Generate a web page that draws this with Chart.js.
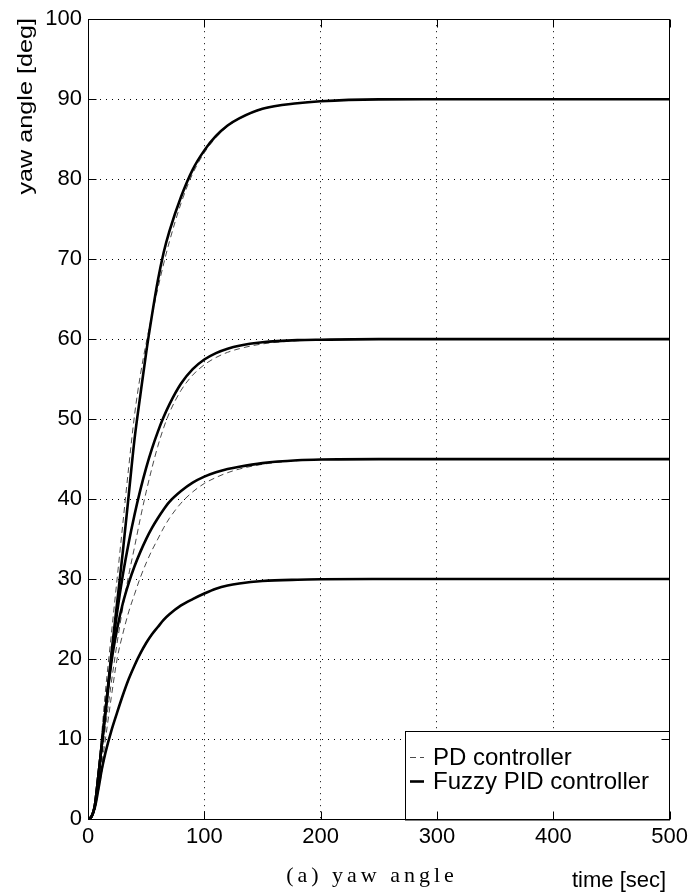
<!DOCTYPE html>
<html>
<head>
<meta charset="utf-8">
<script src="https://cdn.jsdelivr.net/npm/chart.js@4/dist/chart.umd.min.js"></script>
<style>
  html, body { margin: 0; padding: 0; background: #fff; }
  canvas { display: block; }
</style>
</head>
<body>
<canvas id="c" width="693" height="895"></canvas>
<script>
// Sample times [sec] shared by every response curve
const timeSec = [0, 3, 6, 9, 12, 15, 20, 25, 30, 35, 40, 45, 50, 55, 60, 65, 70, 80, 90, 100, 110, 120, 130, 150, 180, 200, 250, 300, 400, 500];

// Yaw angle [deg] with the PD controller, one array per heading command
const pd30 = [0, 0.3, 1.3, 3.5, 6.0, 8.2, 11.0, 13.3, 15.4, 17.4, 19.1, 20.6, 21.9, 23.0, 24.0, 24.9, 25.6, 26.7, 27.5, 28.2, 28.8, 29.2, 29.45, 29.75, 29.92, 29.97, 30, 30, 30, 30];
const pd45 = [0, 0.3, 1.3, 4.0, 7.0, 10.0, 15.2, 20.0, 23.2, 25.9, 28.1, 30.2, 32.0, 33.6, 35.0, 36.4, 37.6, 39.5, 40.9, 41.95, 42.7, 43.3, 43.75, 44.35, 44.8, 44.93, 45, 45, 45, 45];
const pd60 = [0, 0.3, 1.5, 4.5, 8.0, 11.5, 17.0, 22.0, 26.5, 30.5, 34.0, 37.6, 40.9, 43.9, 46.6, 48.9, 50.8, 53.6, 55.5, 56.8, 57.7, 58.35, 58.8, 59.4, 59.8, 59.92, 60, 60, 60, 60];
const pd90 = [0, 0.3, 1.8, 6.0, 11.0, 16.0, 23.0, 30.0, 37.0, 44.0, 50.5, 55.5, 59.5, 63.0, 66.3, 69.4, 72.2, 77.0, 80.7, 83.3, 85.2, 86.6, 87.55, 88.75, 89.5, 89.75, 89.98, 90, 90, 90];

// Yaw angle [deg] with the fuzzy PID controller
const fz30 = [0, 0.3, 1.5, 3.8, 6.3, 8.3, 11.0, 13.3, 15.5, 17.5, 19.2, 20.7, 22.0, 23.1, 24.0, 24.9, 25.6, 26.7, 27.5, 28.2, 28.8, 29.2, 29.45, 29.75, 29.92, 29.97, 30, 30, 30, 30];
const fz45 = [0, 0.3, 1.8, 5.5, 9.5, 13.5, 19.5, 23.75, 27.0, 29.5, 31.6, 33.4, 35.0, 36.4, 37.6, 38.7, 39.65, 41.0, 42.05, 42.8, 43.35, 43.75, 44.05, 44.5, 44.85, 44.95, 45, 45, 45, 45];
const fz60 = [0, 0.3, 1.8, 5.5, 9.5, 13.5, 20.0, 25.8, 30.55, 34.55, 38.05, 41.15, 43.9, 46.3, 48.4, 50.25, 51.85, 54.45, 56.25, 57.45, 58.25, 58.8, 59.18, 59.6, 59.87, 59.93, 60, 60, 60, 60];
const fz90 = [0, 0.3, 1.8, 5.5, 9.5, 13.5, 20.5, 27.0, 33.5, 40.5, 47.5, 53.0, 58.3, 63.0, 67.3, 70.8, 73.5, 77.8, 81.2, 83.6, 85.4, 86.7, 87.6, 88.8, 89.5, 89.75, 89.98, 90, 90, 90];

// Axis ticks and text
const xTicks = [0, 100, 200, 300, 400, 500];
const yTicks = [0, 10, 20, 30, 40, 50, 60, 70, 80, 90, 100];
const legendLabels = ['PD controller', 'Fuzzy PID controller'];
const yTitle = 'yaw angle [deg]';
const xTitle = 'time [sec]';
const caption = '(a) yaw angle';

const SANS = '"Liberation Sans", Arial, Helvetica, sans-serif';
const SERIF = '"Liberation Serif", "DejaVu Serif", serif';

const toPoints = vals => vals.map((v, i) => ({ x: timeSec[i], y: v }));

const pdStyle = { borderColor: '#4a4a4a', borderWidth: 1, borderDash: [6, 4], order: 1 };
const fzStyle = { borderColor: '#000000', borderWidth: 2.6, borderDash: [], order: 0 };
const common = { pointRadius: 0, fill: false, cubicInterpolationMode: 'monotone', tension: 0 };

const datasets = [
  ...[pd30, pd45, pd60, pd90].map(v => ({ label: legendLabels[0], data: toPoints(v), ...common, ...pdStyle })),
  ...[fz30, fz45, fz60, fz90].map(v => ({ label: legendLabels[1], data: toPoints(v), ...common, ...fzStyle }))
];

// Box frame, inward ticks, legend and free-standing texts
const framePlugin = {
  id: 'frame',
  afterDatasetsDraw(chart) {
    const { ctx, chartArea: a, scales: { x, y } } = chart;
    const L = Math.round(a.left) + 0.5, R = Math.round(a.right) - 0.5;
    const T = Math.round(a.top) + 0.5, B = Math.round(a.bottom) + 0.5;
    ctx.save();

    // legend box
    const lg = { left: 405, top: 731, right: 670, bottom: B };
    ctx.fillStyle = '#fff';
    ctx.fillRect(lg.left, lg.top, lg.right - lg.left, lg.bottom - lg.top);
    ctx.strokeStyle = '#000';
    ctx.lineWidth = 1;
    ctx.strokeRect(lg.left + 0.5, lg.top + 0.5, lg.right - lg.left - 1, lg.bottom - lg.top);
    const rows = [757, 781];
    const styles = [pdStyle, fzStyle];
    ctx.font = '24px ' + SANS;
    ctx.textBaseline = 'middle';
    ctx.textAlign = 'left';
    legendLabels.forEach((txt, i) => {
      const s = styles[i];
      ctx.beginPath();
      ctx.setLineDash(s.borderDash);
      ctx.strokeStyle = s.borderColor;
      ctx.lineWidth = s.borderWidth;
      ctx.moveTo(410, rows[i] + 0.5);
      ctx.lineTo(424, rows[i] + 0.5);
      ctx.stroke();
      ctx.setLineDash([]);
      ctx.fillStyle = '#000';
      ctx.fillText(txt, 433, rows[i] + 1);
    });

    // axes box
    ctx.strokeStyle = '#000';
    ctx.lineWidth = 1;
    ctx.beginPath();
    ctx.moveTo(L, T); ctx.lineTo(R, T); ctx.lineTo(R, B); ctx.lineTo(L, B); ctx.closePath();
    ctx.stroke();

    // inward tick marks on all four sides
    const tl = 8;
    ctx.beginPath();
    xTicks.forEach(v => {
      const px = Math.round(x.getPixelForValue(v)) + 0.5;
      ctx.moveTo(px, B); ctx.lineTo(px, B - tl);
      ctx.moveTo(px, T); ctx.lineTo(px, T + tl);
    });
    yTicks.forEach(v => {
      const py = Math.round(y.getPixelForValue(v)) + 0.5;
      ctx.moveTo(L, py); ctx.lineTo(L + tl, py);
      ctx.moveTo(R, py); ctx.lineTo(R - tl, py);
    });
    ctx.stroke();

    // y axis title (rotated)
    ctx.fillStyle = '#000';
    ctx.save();
    ctx.translate(26, 18);
    ctx.rotate(-Math.PI / 2);
    ctx.scale(1.2, 1);
    ctx.font = '21px ' + SANS;
    ctx.textAlign = 'right';
    ctx.textBaseline = 'middle';
    ctx.fillText(yTitle, 0, 0);
    ctx.restore();

    // x axis title
    ctx.font = '22px ' + SANS;
    ctx.textAlign = 'left';
    ctx.textBaseline = 'middle';
    ctx.fillText(xTitle, 572, 881);

    // caption
    ctx.font = '22px ' + SERIF;
    ctx.textAlign = 'center';
    ctx.letterSpacing = '4px';
    ctx.fillText(caption, 372, 876);
    ctx.restore();
  }
};

new Chart(document.getElementById('c'), {
  type: 'line',
  data: { datasets },
  options: {
    responsive: false,
    animation: false,
    devicePixelRatio: 1,
    layout: { padding: { left: 0, right: 20, top: 15, bottom: 0 } },
    scales: {
      x: {
        type: 'linear', min: 0, max: 500,
        afterBuildTicks: s => { s.ticks = xTicks.map(v => ({ value: v })); },
        afterFit: s => { s.height = 76; },
        ticks: { color: '#000', font: { family: SANS, size: 22 }, padding: 5, maxRotation: 0, autoSkip: false },
        grid: { color: '#000', lineWidth: 1, drawTicks: false },
        border: { display: false, dash: [1, 5] }
      },
      y: {
        type: 'linear', min: 0, max: 100,
        afterBuildTicks: s => { s.ticks = yTicks.map(v => ({ value: v })); },
        afterFit: s => { s.width = 88; },
        ticks: { color: '#000', font: { family: SANS, size: 22 }, padding: 6, autoSkip: false },
        grid: { color: '#000', lineWidth: 1, drawTicks: false },
        border: { display: false, dash: [1, 5] }
      }
    },
    plugins: { legend: { display: false }, tooltip: { enabled: false } }
  },
  plugins: [framePlugin]
});
</script>
</body>
</html>
